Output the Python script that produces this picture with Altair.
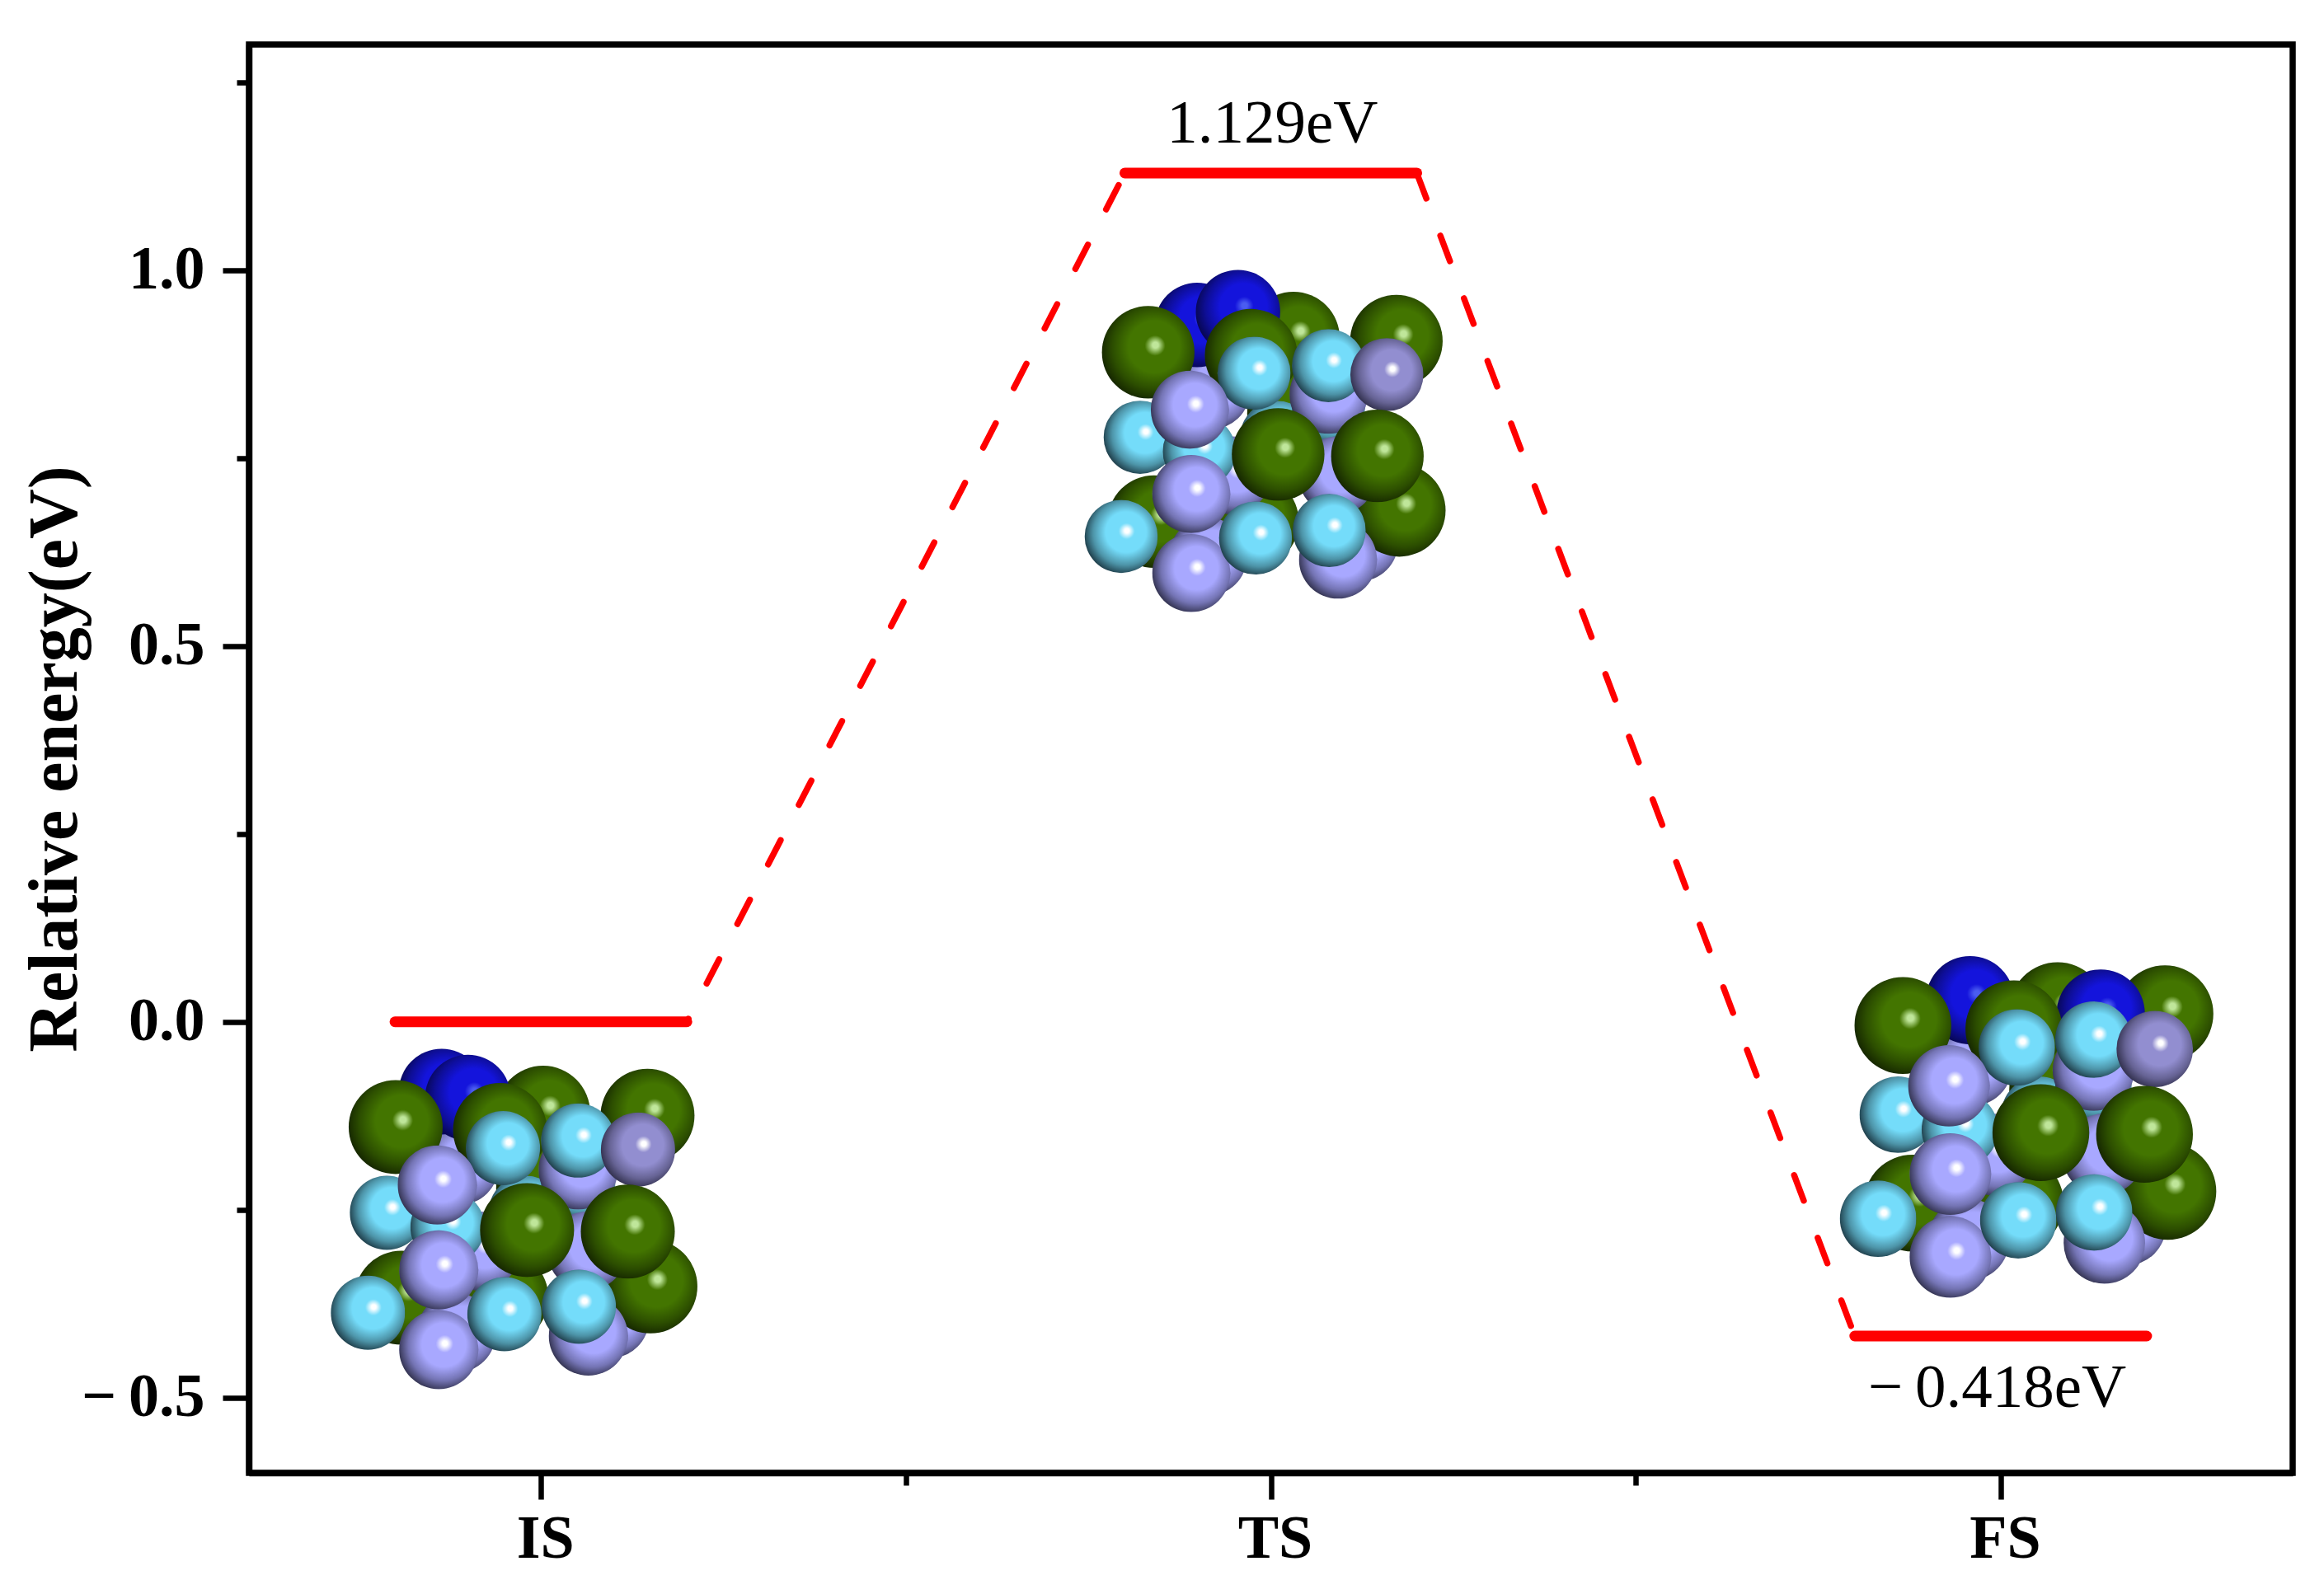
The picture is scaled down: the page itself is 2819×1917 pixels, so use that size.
import altair as alt
import pandas as pd

# Energy profile
STAGE_X = [1, 2, 3]
STAGE_LABELS = ["IS", "TS", "FS"]
ENERGY = [0.0, 1.129, -0.418]
LEVEL_START = [0.8, 1.8, 2.8]
LEVEL_END = [1.2, 2.2, 3.2]
X_TICKS = [1, 1.5, 2, 2.5, 3]
Y_TICKS = [-0.5, -0.25, 0, 0.25, 0.5, 0.75, 1.0, 1.25]

# Atoms, back to front, shared order of kinds across the three slabs
ATOM_KIND = list("L" "GGGGGG" "LLL" "CC" "LL" "CC" "LL" "NN" "GG" "CC" "D" "LL" "GG" "CCC")

IS_X = [1.094,
        1.003, 1.146, 0.809, 0.946, 1.150, 1.003,
        0.888, 0.884, 0.916,
        0.979, 1.051,
        1.051, 1.063,
        0.789, 0.872,
        1.065, 0.860,
        0.864, 0.900,
        0.801, 0.944,
        0.948, 1.051,
        1.133,
        0.858, 0.860,
        0.981, 1.119,
        0.763, 0.950, 1.052]
IS_Y = [-0.395,
        -0.121, -0.125, -0.367, -0.367, -0.352, -0.222,
        -0.191, -0.414, -0.305,
        -0.254, -0.215,
        -0.197, -0.305,
        -0.254, -0.273,
        -0.418, -0.436,
        -0.093, -0.101,
        -0.140, -0.144,
        -0.168, -0.158,
        -0.170,
        -0.217, -0.330,
        -0.277, -0.279,
        -0.387, -0.389, -0.379]

TS_X = [2.121,
        2.031, 2.172, 1.840, 1.975, 2.176, 2.031,
        1.918, 1.914, 1.946,
        2.008, 2.079,
        2.079, 2.091,
        1.821, 1.902,
        2.092, 1.891,
        1.899, 1.955,
        1.832, 1.973,
        1.977, 2.079,
        2.159,
        1.889, 1.891,
        2.010, 2.146,
        1.795, 1.979, 2.080]
TS_Y = [0.6377,
        0.9095, 0.9055, 0.6654, 0.6654, 0.6803, 0.8093,
        0.8400, 0.6188, 0.7269,
        0.7775, 0.8162,
        0.8341, 0.7269,
        0.7775, 0.7587,
        0.6148, 0.5970,
        0.927, 0.944,
        0.8906, 0.8867,
        0.8628, 0.8728,
        0.8609,
        0.8142, 0.7021,
        0.7547, 0.7527,
        0.6456, 0.6436, 0.6535]

FS_X = [3.171,
        3.078, 3.225, 2.879, 3.020, 3.229, 3.078,
        2.960, 2.956, 2.989,
        3.053, 3.127,
        3.127, 3.140,
        2.859, 2.944,
        3.142, 2.931,
        2.958, 3.137,
        2.866, 3.018,
        3.022, 3.127,
        3.211,
        2.929, 2.931,
        3.055, 3.197,
        2.832, 3.024, 3.128]
FS_Y = [-0.2702,
        0.0148, 0.0106, -0.2411, -0.2411, -0.2255, -0.0903,
        -0.058, -0.2900, -0.1766,
        -0.1236, -0.0830,
        -0.0643, -0.1766,
        -0.1236, -0.1433,
        -0.2941, -0.3128,
        0.0287, 0.011,
        -0.005, -0.0092,
        -0.0341, -0.0237,
        -0.0362,
        -0.0851, -0.2026,
        -0.1475, -0.1496,
        -0.2619, -0.2640, -0.2536]

W, H = 2479, 1733
FONT = "Liberation Serif"
XS = alt.Scale(domain=[0.6, 3.4], nice=False, zero=False)
YS = alt.Scale(domain=[-0.6, 1.3], nice=False, zero=False)

RADIUS = {"G": 57, "N": 52, "C": 45, "L": 48, "D": 45}
SLAB_SCALE = {"IS": 1.0, "TS": 0.985, "FS": 1.03}
SHADES = {
    "G": ("#bfe69a", "#437500", "#2c4e00", "#132200"),
    "N": ("#4a5cf0", "#1414dc", "#0e0e96", "#060648"),
    "C": ("#ffffff", "#74dcfa", "#4d94a8", "#1a3540"),
    "L": ("#ffffff", "#a8a8ff", "#7474b4", "#2c2c46"),
    "D": ("#ffffff", "#928ed0", "#666394", "#2c2b46"),
}


def sphere(kind):
    hi, base, mid, dark = SHADES[kind]
    return alt.RadialGradient(
        gradient="radial", x1=0.58, y1=0.42, r1=0, x2=0.55, y2=0.46, r2=0.58,
        stops=[
            alt.GradientStop(offset=0, color=hi),
            alt.GradientStop(offset=0.055, color=hi),
            alt.GradientStop(offset=0.19, color=base),
            alt.GradientStop(offset=0.48, color=base),
            alt.GradientStop(offset=0.76, color=mid),
            alt.GradientStop(offset=1, color=dark),
        ],
    )


rows = []
for slab, xs, ys in [("IS", IS_X, IS_Y), ("TS", TS_X, TS_Y), ("FS", FS_X, FS_Y)]:
    for i, (k, x, y) in enumerate(zip(ATOM_KIND, xs, ys)):
        rows.append({"order": i, "kind": k, "x": x, "y": y,
                     "area": (2 * RADIUS[k] * SLAB_SCALE[slab]) ** 2})
atoms = pd.DataFrame(rows)

x_axis = alt.Axis(
    values=X_TICKS, title=None, grid=False, domainColor="black", domainWidth=7.5,
    tickColor="black", tickWidth=6.5, labelFont=FONT, labelFontWeight="bold",
    labelFontSize=74, labelColor="black", labelPadding=12, labelOffset=5,
    tickSize={"condition": {"test": "datum.value==1.5||datum.value==2.5", "value": 15}, "value": 32},
    labelExpr="datum.value==1?'IS':datum.value==2?'TS':datum.value==3?'FS':''",
)
y_axis = alt.Axis(
    values=Y_TICKS, title="Relative energy(eV)", grid=False, domainColor="black", domainWidth=7.5,
    tickColor="black", tickWidth=6.5, labelFont=FONT, labelFontWeight="bold",
    labelFontSize=74, labelColor="black", labelPadding=22, titleFont=FONT,
    titleFontWeight="bold", titleFontSize=84, titleColor="black", titlePadding=-8,
    tickSize={"condition": {"test": "datum.value==1.25||datum.value==0.75||datum.value==0.25||datum.value==-0.25",
                            "value": 15}, "value": 32},
    labelExpr="(datum.value*2)%1!=0?'':datum.value<0?'\u2212\u2009'+format(-datum.value,'.1f'):format(datum.value,'.1f')",
)

levels = pd.DataFrame({"x": LEVEL_START, "x2": LEVEL_END, "y": ENERGY})
level_layer = alt.Chart(levels).mark_rule(color="#ff0000", strokeWidth=13, strokeCap="round").encode(
    x=alt.X("x:Q", scale=XS, axis=x_axis), x2="x2:Q", y=alt.Y("y:Q", scale=YS, axis=y_axis)
)

up = pd.DataFrame({"x": [LEVEL_END[0], LEVEL_START[1]], "y": [ENERGY[0], ENERGY[1]]})
down = pd.DataFrame({"x": [LEVEL_END[1], LEVEL_START[2]], "y": [ENERGY[1], ENERGY[2]]})
up_layer = alt.Chart(up).mark_line(color="#ff0000", strokeWidth=7.5, strokeCap="round",
                                   strokeDash=[33, 48.3], strokeDashOffset=29).encode(
    x=alt.X("x:Q", scale=XS), y=alt.Y("y:Q", scale=YS), order="x:Q")
down_layer = alt.Chart(down).mark_line(color="#ff0000", strokeWidth=7.5, strokeCap="round",
                                       strokeDash=[33, 48.2]).encode(
    x=alt.X("x:Q", scale=XS), y=alt.Y("y:Q", scale=YS), order="x:Q")

# one layer per run of equal kinds, so the paint order is kept
runs = []
start = 0
for i in range(1, len(ATOM_KIND) + 1):
    if i == len(ATOM_KIND) or ATOM_KIND[i] != ATOM_KIND[start]:
        runs.append((ATOM_KIND[start], start, i))
        start = i
atom_layers = []
for kind, a, b in runs:
    sub = atoms[(atoms["order"] >= a) & (atoms["order"] < b)].sort_values("order")
    atom_layers.append(
        alt.Chart(sub).mark_circle(fill=sphere(kind), opacity=1, stroke=None).encode(
            x=alt.X("x:Q", scale=XS), y=alt.Y("y:Q", scale=YS),
            size=alt.Size("area:Q", scale=None, legend=None),
        )
    )

notes = pd.DataFrame({"x": [2.002, 2.995], "y": [1.170, -0.512],
                      "t": ["1.129eV", "\u2212\u20090.418eV"]})
note_layer = alt.Chart(notes).mark_text(font=FONT, fontSize=75, color="black", align="center",
                                        baseline="alphabetic").encode(
    x=alt.X("x:Q", scale=XS), y=alt.Y("y:Q", scale=YS), text="t:N")

chart = alt.layer(level_layer, up_layer, down_layer, *atom_layers, note_layer).properties(
    width=W, height=H,
    autosize=alt.AutoSizeParams(type="none"),
    padding={"left": 294, "top": 46, "right": 30, "bottom": 120},
    background="white",
).configure_view(stroke="black", strokeWidth=7.5)

chart.save("out.html", embed_options={"renderer": "svg", "actions": False})
